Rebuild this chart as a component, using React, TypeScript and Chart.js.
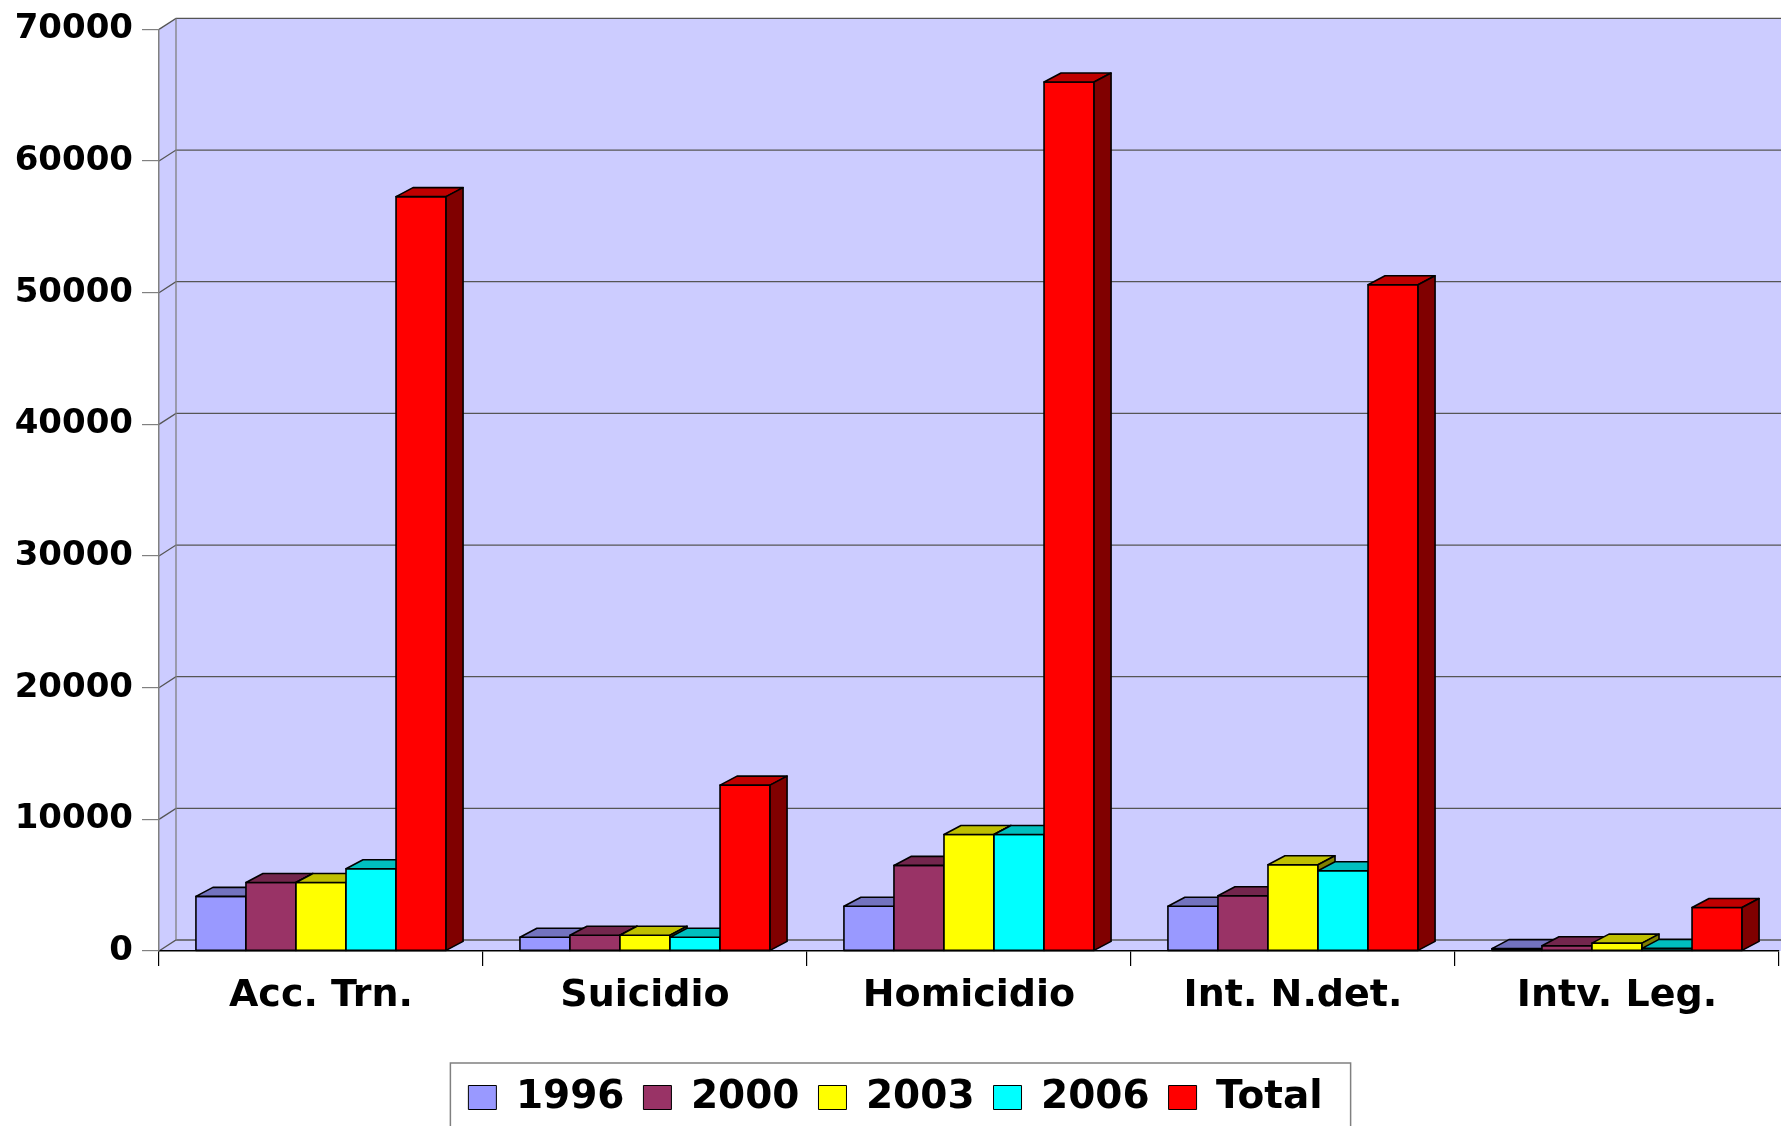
import React, { useEffect, useRef } from 'react';
import { Chart, registerables } from 'chart.js';

Chart.register(...registerables);

// ---- data ----
const categories = ['Acc. Trn.', 'Suicidio', 'Homicidio', 'Int. N.det.', 'Intv. Leg.'];
const seriesLabels = ['1996', '2000', '2003', '2006', 'Total'];
const values1996 = [4150, 1050, 3400, 3400, 180];
const values2000 = [5200, 1200, 6500, 4200, 400];
const values2003 = [5200, 1200, 8850, 6550, 600];
const values2006 = [6250, 1050, 8850, 6100, 200];
const valuesTotal = [57300, 12600, 66000, 50600, 3300];
const yMin = 0;
const yMax = 70000;
const yStep = 10000;

// ---- styles ----
const frontColors = ['#9999FF', '#993366', '#FFFF00', '#00FFFF', '#FF0000'];
const topColors = ['#7373BF', '#73264D', '#BFBF00', '#00BFBF', '#BF0000'];
const sideColors = ['#4D4D80', '#4D1A33', '#808000', '#008080', '#800000'];
const FONT = "'DejaVu Sans', sans-serif";
const WALL_DX = 17;
const WALL_DY = -11;
const BAR_DX = 17;
const BAR_DY = -9;

const wallPlugin = {
  id: 'walls3d',
  beforeDraw(chart: any) {
    const { ctx, chartArea: a, scales } = chart;
    const y = scales.y;
    const L = a.left, R = a.right, T = a.top, B = a.bottom;
    ctx.save();
    ctx.fillStyle = '#CCCCFF';
    ctx.fillRect(L + WALL_DX, T + WALL_DY, R - L + 20, B - T);
    ctx.beginPath();
    ctx.moveTo(L, T);
    ctx.lineTo(L + WALL_DX, T + WALL_DY);
    ctx.lineTo(L + WALL_DX, B + WALL_DY);
    ctx.lineTo(L, B);
    ctx.closePath();
    ctx.fill();
    ctx.beginPath();
    ctx.moveTo(L, B);
    ctx.lineTo(L + WALL_DX, B + WALL_DY);
    ctx.lineTo(R + WALL_DX + 20, B + WALL_DY);
    ctx.lineTo(R + 20, B);
    ctx.closePath();
    ctx.fill();
    ctx.strokeStyle = '#555555';
    ctx.lineWidth = 1.3;
    y.ticks.forEach((t: any) => {
      const py = y.getPixelForValue(t.value);
      ctx.beginPath();
      ctx.moveTo(L, py);
      ctx.lineTo(L + WALL_DX, py + WALL_DY);
      ctx.lineTo(R + WALL_DX + 20, py + WALL_DY);
      ctx.stroke();
    });
    ctx.strokeStyle = '#808080';
    ctx.beginPath();
    ctx.moveTo(L + WALL_DX, T + WALL_DY);
    ctx.lineTo(L + WALL_DX, B + WALL_DY);
    ctx.stroke();
    ctx.restore();
  },
};

// Redraws every bar (front, top and side faces) from the library's bar
// elements, dataset by dataset left to right so that occlusion is correct.
const barFacesPlugin = {
  id: 'barFaces3d',
  afterDatasetsDraw(chart: any) {
    const { ctx } = chart;
    ctx.save();
    ctx.lineWidth = 1.6;
    ctx.strokeStyle = '#000';
    ctx.lineJoin = 'round';
    const n = chart.data.datasets.length;
    for (let idx = 0; idx < n; idx++) {
      const meta = chart.getDatasetMeta(idx);
      if (!meta || meta.hidden) continue;
      meta.data.forEach((el: any) => {
        const { x, y, base, width } = el.getProps(['x', 'y', 'base', 'width'], true);
        const x0 = x - width / 2;
        const x1 = x + width / 2;
        // front
        ctx.beginPath();
        ctx.rect(x0, y, x1 - x0, base - y);
        ctx.fillStyle = frontColors[idx];
        ctx.fill();
        ctx.stroke();
        // top
        ctx.beginPath();
        ctx.moveTo(x0, y);
        ctx.lineTo(x0 + BAR_DX, y + BAR_DY);
        ctx.lineTo(x1 + BAR_DX, y + BAR_DY);
        ctx.lineTo(x1, y);
        ctx.closePath();
        ctx.fillStyle = topColors[idx];
        ctx.fill();
        ctx.stroke();
        // side
        ctx.beginPath();
        ctx.moveTo(x1, y);
        ctx.lineTo(x1 + BAR_DX, y + BAR_DY);
        ctx.lineTo(x1 + BAR_DX, base + BAR_DY);
        ctx.lineTo(x1, base);
        ctx.closePath();
        ctx.fillStyle = sideColors[idx];
        ctx.fill();
        ctx.stroke();
      });
    }
    ctx.restore();
  },
};

const legendBoxPlugin = {
  id: 'legendBox',
  afterDraw(chart: any) {
    const lg = chart.legend;
    const hb = lg && lg.legendHitBoxes;
    if (!hb || !hb.length) return;
    const { ctx } = chart;
    const first = hb[0];
    const last = hb[hb.length - 1];
    const left = first.left - 18;
    const right = last.left + last.width + 28;
    const top = lg.top + 4;
    const bottom = lg.bottom + 30;
    ctx.save();
    ctx.strokeStyle = '#808080';
    ctx.lineWidth = 1.5;
    ctx.strokeRect(left, top, right - left, bottom - top);
    ctx.restore();
  },
};

export default function App() {
  const canvasRef = useRef<HTMLCanvasElement | null>(null);

  useEffect(() => {
    const canvas = canvasRef.current;
    if (!canvas) return;
    const seriesValues = [values1996, values2000, values2003, values2006, valuesTotal];
    const chart = new Chart(canvas, {
      type: 'bar',
      data: {
        labels: categories,
        datasets: seriesLabels.map((label, i) => ({
          label,
          data: seriesValues[i],
          backgroundColor: frontColors[i],
          borderColor: '#000',
          borderWidth: 1,
          borderSkipped: false,
          categoryPercentage: 0.772,
          barPercentage: 1,
        })),
      },
      options: {
        responsive: false,
        animation: false,
        devicePixelRatio: 1,
        layout: { padding: { left: 12, right: 21, top: 27.5, bottom: 0 } },
        plugins: {
          tooltip: { enabled: false },
          legend: {
            position: 'bottom',
            labels: {
              boxWidth: 28,
              boxHeight: 24,
              padding: 19,
              color: '#000',
              font: { family: FONT, weight: 'bold', size: 39 },
            },
          },
        },
        scales: {
          x: {
            offset: true,
            grid: {
              display: true,
              drawOnChartArea: false,
              drawTicks: true,
              tickLength: 15,
              color: '#000',
              lineWidth: 1.2,
              offset: true,
            },
            border: { display: true, color: '#000', width: 1.5 },
            ticks: {
              color: '#000',
              padding: 7,
              maxRotation: 0,
              autoSkip: false,
              font: { family: FONT, weight: 'bold', size: 38 },
            },
            afterFit: (s: any) => {
              s.height = 108;
            },
          },
          y: {
            min: yMin,
            max: yMax,
            grid: {
              drawOnChartArea: false,
              drawTicks: true,
              tickLength: 17,
              color: '#808080',
              lineWidth: 1.2,
            },
            border: { display: true, color: '#808080', width: 1.5 },
            ticks: {
              stepSize: yStep,
              color: '#000',
              padding: 9,
              font: { family: FONT, weight: 'bold', size: 34 },
              callback: (v: any) => String(v),
            },
            afterFit: (s: any) => {
              s.width = 147;
            },
          },
        },
      },
      plugins: [wallPlugin, barFacesPlugin, legendBoxPlugin],
    } as any);
    return () => chart.destroy();
  }, []);

  return (
    <div
      style={{
        position: 'fixed',
        left: 0,
        top: 0,
        width: 1781,
        height: 1126,
        overflow: 'hidden',
        background: '#fff',
      }}
    >
      <canvas
        ref={canvasRef}
        width={1800}
        height={1127}
        style={{ display: 'block', width: 1800, height: 1127 }}
      />
    </div>
  );
}
